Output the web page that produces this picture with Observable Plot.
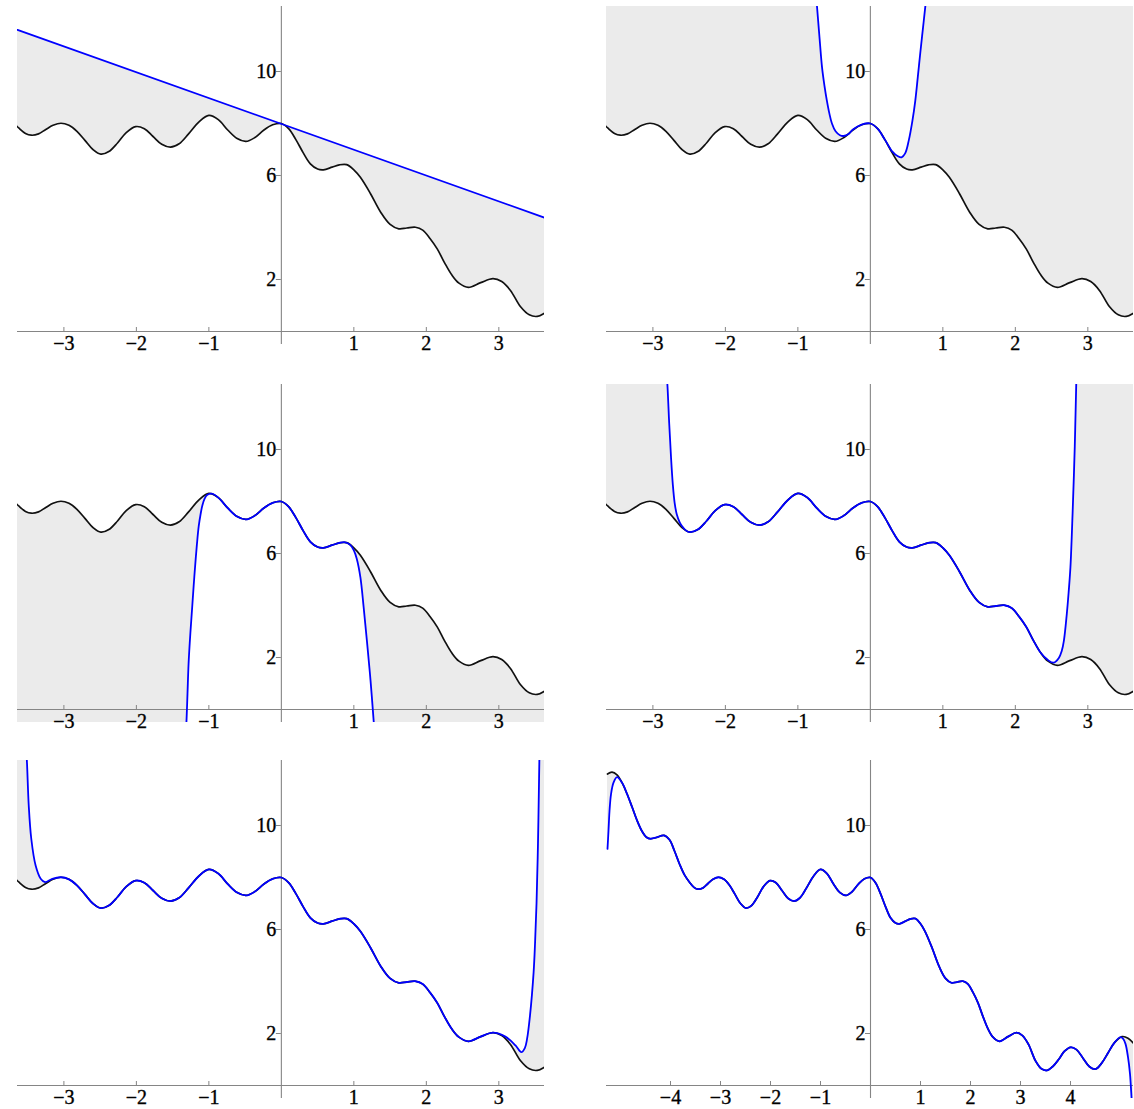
<!DOCTYPE html>
<html><head><meta charset="utf-8">
<script src="https://cdn.jsdelivr.net/npm/d3@7"></script>
<script src="https://cdn.jsdelivr.net/npm/@observablehq/plot@0.6"></script>
<style>
body{margin:0;background:#fff;}
#root{position:relative;width:1134px;height:1109px;overflow:hidden;background:#fff;}
#root svg{position:absolute;overflow:visible;}
#root svg text{font-family:"Liberation Serif","Times New Roman",serif !important;font-size:20px !important;stroke:#000;stroke-width:0.35px;}
</style></head><body><div id="root"></div>
<script>
// ---- tick values ----
const xTicksNarrow = [-3, -2, -1, 1, 2, 3];
const xTicksWide = [-4, -3, -2, -1, 1, 2, 3, 4];
const yTicks = [2, 6, 10];

// ---- the function f (black curve) ----
const fX = [-5.26,-5.17,-5.07,-4.97,-4.87,-4.77,-4.67,-4.57,-4.48,-4.40,-4.28,-4.13,-4.02,-3.92,-3.82,-3.72,-3.62,-3.53,-3.45,-3.35,-3.25,-3.15,-3.04,-2.93,-2.82,-2.71,-2.60,-2.49,-2.38,-2.26,-2.14,-2.01,-1.89,-1.77,-1.65,-1.53,-1.41,-1.28,-1.14,-1.00,-0.87,-0.74,-0.61,-0.49,-0.37,-0.24,-0.12,0,0.10,0.20,0.30,0.40,0.50,0.58,0.70,0.80,0.90,1.00,1.09,1.23,1.37,1.50,1.62,1.73,1.85,1.95,2.05,2.15,2.25,2.35,2.45,2.58,2.75,2.92,3.04,3.16,3.30,3.42,3.53,3.65,3.77,3.88,4.00,4.12,4.25,4.38,4.50,4.62,4.75,4.88,5.03,5.15,5.27];
const fY = [11.98,12.05,11.95,11.65,11.22,10.72,10.20,9.78,9.55,9.49,9.54,9.62,9.45,9.02,8.52,8.10,7.82,7.62,7.55,7.60,7.77,7.93,8.01,7.93,7.70,7.35,7.00,6.82,6.92,7.25,7.65,7.88,7.80,7.50,7.20,7.09,7.22,7.60,8.05,8.31,8.15,7.75,7.42,7.31,7.45,7.75,7.95,8.00,7.80,7.38,6.88,6.45,6.25,6.22,6.32,6.41,6.42,6.22,5.93,5.30,4.59,4.12,3.95,3.98,4.01,3.90,3.58,3.18,2.65,2.18,1.86,1.70,1.88,2.03,1.92,1.58,0.95,0.64,0.58,0.74,1.02,1.32,1.47,1.38,1.05,0.72,0.63,0.85,1.25,1.65,1.88,1.82,1.60];

// ---- approximating polynomials (blue) ----
// panel 1: tangent line
const p1X = [-3.64, 3.63];
const p1Y = [11.60, 4.38];
// panel 2
const p2X = [-0.76,-0.735,-0.70,-0.667,-0.633,-0.60,-0.565,-0.53,-0.48,-0.42,-0.37,-0.30,-0.24,-0.12,0,0.10,0.20,0.30,0.38,0.43,0.48,0.53,0.58,0.62,0.655,0.69,0.725,0.76,0.79];
const p2Y = [13.3,12.46,11.25,10.17,9.45,8.88,8.38,8.00,7.70,7.55,7.52,7.60,7.77,7.96,8.00,7.80,7.38,6.93,6.74,6.70,6.85,7.35,8.10,8.88,9.80,10.75,11.65,12.55,13.4];
// panel 3 (left and right branches; between them it runs on f)
const p3LX = [-1.32,-1.31,-1.295,-1.28,-1.255,-1.23,-1.21,-1.19,-1.165,-1.14,-1.115,-1.09,-1.06,-1.025,-0.96,-0.87];
const p3LY = [-0.9,-0.5,0.6,1.76,2.95,3.94,4.75,5.50,6.35,7.05,7.50,7.85,8.10,8.25,8.30,8.15];
const p3RX = [0.88,0.95,1.00,1.04,1.09,1.135,1.18,1.23,1.275,1.295];
const p3RY = [6.43,6.33,6.12,5.80,5.09,3.94,2.65,1.12,-0.5,-1.2];
// panel 4
const p4LX = [-2.82,-2.80,-2.775,-2.75,-2.725,-2.70,-2.67,-2.63,-2.60,-2.55,-2.49];
const p4LY = [13.3,12.5,11.0,9.70,8.65,7.95,7.50,7.20,7.06,6.90,6.82];
const p4RX = [2.45,2.53,2.60,2.64,2.67,2.71,2.735,2.76,2.79,2.82,2.84,2.86];
const p4RY = [1.90,1.80,1.98,2.25,2.65,3.68,4.50,5.47,7.56,10.13,12.5,14.0];
// panel 5
const p5LX = [-3.53,-3.51,-3.485,-3.45,-3.39,-3.32,-3.26,-3.16];
const p5LY = [13.4,12.46,10.77,9.49,8.46,7.95,7.82,7.95];
const p5RX = [3.09,3.23,3.31,3.36,3.39,3.43,3.48,3.50,3.52,3.54,3.555,3.565];
const p5RY = [1.88,1.54,1.28,1.45,1.80,2.69,4.36,5.50,7.00,9.30,11.8,13.5];
// panel 6
const p6LX = [-5.26,-5.24,-5.22,-5.19,-5.14,-5.07];
const p6LY = [9.10,9.80,10.55,11.20,11.65,11.86];
const p6RX = [5.00,5.05,5.10,5.15,5.19,5.22,5.235];
const p6RY = [1.86,1.80,1.60,1.09,0.45,-0.45,-1.0];

// ---- build tables ----
const pts = (xs, ys) => xs.map((x, i) => ({x, y: ys[i]}));
const f = pts(fX, fY);
const onF = (a, b) => f.filter(d => d.x > a && d.x < b);
const poly1 = pts(p1X, p1Y);
const poly2 = pts(p2X, p2Y);
const poly3 = [...pts(p3LX, p3LY), ...onF(-0.87, 0.85), ...pts(p3RX, p3RY)];
const poly4 = [...pts(p4LX, p4LY), ...onF(-2.49, 2.40), ...pts(p4RX, p4RY)];
const poly5 = [...pts(p5LX, p5LY), ...onF(-3.1, 3.0), ...pts(p5RX, p5RY)];
const poly6 = [...pts(p6LX, p6LY), ...onF(-5.0, 4.95), ...pts(p6RX, p6RY)];

const Y_DOMAIN = [-0.5, 12.5];
const M = 20, W = 527, H = 338;
const AXIS = "#858585";
const FONT = "Liberation Serif";
const fmt = d => d < 0 ? "\u2212" + Math.abs(d) : String(d);

function panel({left, top, xDomain, xTicks, poly, side}) {
  const edge = side === "up" ? Y_DOMAIN[1] : Y_DOMAIN[0];
  const crv = poly.length > 2 ? "catmull-rom" : "linear";
  const svg = Plot.plot({
    width: W + 2 * M, height: H + 2 * M,
    marginTop: M, marginRight: M, marginBottom: M, marginLeft: M,
    x: {domain: xDomain, axis: null},
    y: {domain: Y_DOMAIN, axis: null},
    style: {background: "transparent", overflow: "visible"},
    marks: [
      Plot.areaY(f, {x: "x", y1: "y", y2: () => edge, fill: "#ebebeb", curve: "catmull-rom", clip: true}),
      Plot.areaY(poly, {x: "x", y1: "y", y2: () => edge, fill: "#ffffff", curve: crv, clip: true}),
      Plot.ruleY([0], {stroke: AXIS, strokeWidth: 1.1}),
      Plot.ruleX([0], {stroke: AXIS, strokeWidth: 1.1}),
      Plot.ruleX(xTicks, {x: d => d, y1: 0, y2: 0, insetTop: -4, stroke: AXIS}),
      Plot.ruleY(yTicks, {y: d => d, x1: 0, x2: 0, insetLeft: -5, stroke: AXIS}),
      Plot.line(f, {x: "x", y: "y", stroke: "#111", strokeWidth: 1.7, curve: "catmull-rom", clip: true}),
      Plot.line(poly, {x: "x", y: "y", stroke: "#0000ff", strokeWidth: 1.8, curve: crv, clip: true}),
      Plot.text(xTicks, {x: d => d, y: () => 0, text: fmt, dy: 12, fontFamily: FONT, fontSize: 20, fill: "#000"}),
      Plot.text(yTicks, {x: () => 0, y: d => d, text: fmt, textAnchor: "end", dx: -5, fontFamily: FONT, fontSize: 20, fill: "#000"})
    ]
  });
  svg.style.left = (left - M) + "px";
  svg.style.top = (top - M) + "px";
  document.getElementById("root").appendChild(svg);
}

const narrow = [-3.64, 3.63];
const wide = [-5.28, 5.26];
panel({left: 17, top: 6, xDomain: narrow, xTicks: xTicksNarrow, poly: poly1, side: "up"});
panel({left: 606, top: 6, xDomain: narrow, xTicks: xTicksNarrow, poly: poly2, side: "up"});
panel({left: 17, top: 384, xDomain: narrow, xTicks: xTicksNarrow, poly: poly3, side: "down"});
panel({left: 606, top: 384, xDomain: narrow, xTicks: xTicksNarrow, poly: poly4, side: "up"});
panel({left: 17, top: 760, xDomain: narrow, xTicks: xTicksNarrow, poly: poly5, side: "up"});
panel({left: 606, top: 760, xDomain: wide, xTicks: xTicksWide, poly: poly6, side: "down"});
</script></body></html>
